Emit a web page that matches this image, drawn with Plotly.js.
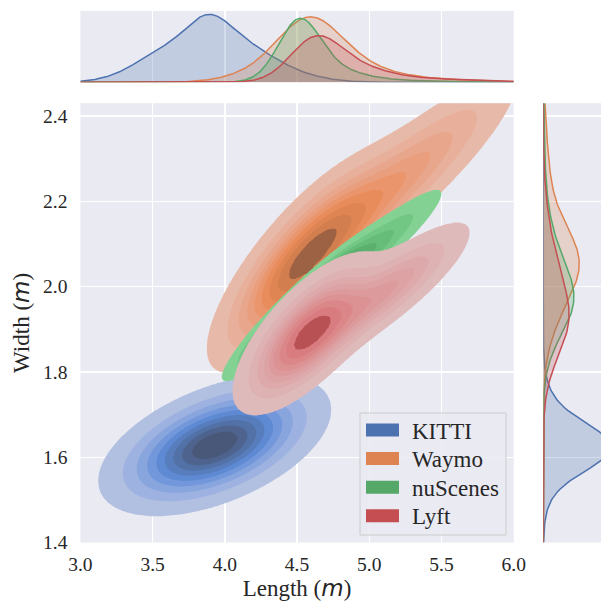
<!DOCTYPE html>
<html><head><meta charset="utf-8">
<script src="https://cdn.plot.ly/plotly-3.0.1.min.js"></script>
<style>html,body{margin:0;padding:0;background:#fff}</style>
</head><body><div id="chart" style="width:601px;height:602px"></div>
<script>
// ---------------- data ----------------
const datasets = ['KITTI', 'Waymo', 'nuScenes', 'Lyft'];
const baseColors = ['#4C72B0', '#DD8452', '#55A868', '#C44E52'];
// joint density components: [weight, meanLength, meanWidth, sdLength, sdWidth, corr]
const kittiJoint    = [[1.00, 3.93, 1.628, 0.33, 0.068, 0.50]];
const waymoJoint    = [[0.62, 4.55, 2.060, 0.28, 0.110, 0.78], [0.37, 5.15, 2.230, 0.42, 0.130, 0.90], [0.002, 4.58, 2.040, 0.012, 0.004, 0]];
const nuscenesJoint = [[0.65, 4.52, 1.955, 0.22, 0.072, 0.94], [0.35, 4.93, 2.060, 0.29, 0.085, 0.94]];
const lyftJoint     = [[0.70, 4.58, 1.890, 0.22, 0.080, 0.70], [0.30, 5.12, 1.990, 0.28, 0.078, 0.85], [0.003, 4.576, 1.894, 0.012, 0.004, 0]];
// marginal density bumps: [height, centre, spread]
const kittiLength    = [[20, 3.88, 0.14], [48, 3.95, 0.34], [9, 3.50, 0.18]];
const waymoLength    = [[53, 4.57, 0.22], [15, 4.80, 0.30], [3, 5.30, 0.40], [5, 4.15, 0.20]];
const nuscenesLength = [[53, 4.51, 0.14], [14, 4.68, 0.22], [2, 5.10, 0.35]];
const lyftLength     = [[36, 4.62, 0.17], [15, 4.85, 0.25], [3, 5.40, 0.40]];
const kittiWidth     = [[40, 1.622, 0.050], [28, 1.630, 0.075]];
const waymoWidth     = [[28, 2.055, 0.080], [8, 2.150, 0.160], [6, 1.930, 0.070]];
const nuscenesWidth  = [[24, 1.960, 0.080], [10, 2.060, 0.100], [1.2, 2.300, 0.120]];
const lyftWidth      = [[20, 1.915, 0.085], [10, 2.040, 0.110]];
const joints = [kittiJoint, waymoJoint, nuscenesJoint, lyftJoint];
const lengths = [kittiLength, waymoLength, nuscenesLength, lyftLength];
const widths = [kittiWidth, waymoWidth, nuscenesWidth, lyftWidth];
const xTicks = [3.0, 3.5, 4.0, 4.5, 5.0, 5.5, 6.0];
const yTicks = [1.4, 1.6, 1.8, 2.0, 2.2, 2.4];
const xRange = [3, 6];
const yRange = [1.4, 2.43];
const levelCount = 10;
const thresh = 0.05;

// ---------------- HUSL colour ramp (as seaborn builds it) ----------------
const M = [[3.240969941904521, -1.537383177570093, -0.498610760293],
           [-0.96924363628087, 1.87596750150772, 0.041555057407175],
           [0.055630079696993, -0.20397695888897, 1.056971514242878]];
const MI = [[0.41239079926595, 0.35758433938387, 0.18048078840183],
            [0.21263900587151, 0.71516867876775, 0.072192315360733],
            [0.019330818715591, 0.11919477979462, 0.95053215224966]];
const refU = 0.19783000664283, refV = 0.46831999493879, kappa = 903.2962962, eps = 0.0088564516;
function bounds(L) {
  const s1 = Math.pow(L + 16, 3) / 1560896; const s2 = s1 > eps ? s1 : L / kappa; const r = [];
  for (let c = 0; c < 3; c++) { const m1 = M[c][0], m2 = M[c][1], m3 = M[c][2];
    for (let t = 0; t < 2; t++) {
      const top1 = (284517 * m1 - 94839 * m3) * s2;
      const top2 = (838422 * m3 + 769860 * m2 + 731718 * m1) * L * s2 - 769860 * t * L;
      const bot = (632260 * m3 - 126452 * m2) * s2 + 126452 * t;
      r.push([top1 / bot, top2 / bot]);
    } }
  return r;
}
function maxC(L, H) { const h = H / 180 * Math.PI; let m = Infinity;
  for (const [sl, ic] of bounds(L)) { const len = ic / (Math.sin(h) - sl * Math.cos(h)); if (len >= 0) m = Math.min(m, len); }
  return m; }
const toLin = c => c > 0.04045 ? Math.pow((c + 0.055) / 1.055, 2.4) : c / 12.92;
const fromLin = c => c <= 0.0031308 ? 12.92 * c : 1.055 * Math.pow(c, 1 / 2.4) - 0.055;
function hex2rgb(h) { return [1, 3, 5].map(i => parseInt(h.substr(i, 2), 16) / 255); }
function rgb2husl(rgb) {
  const [R, G, B] = rgb.map(toLin);
  const X = MI[0][0]*R + MI[0][1]*G + MI[0][2]*B, Y = MI[1][0]*R + MI[1][1]*G + MI[1][2]*B, Z = MI[2][0]*R + MI[2][1]*G + MI[2][2]*B;
  const L = Y <= eps ? Y * kappa : 116 * Math.cbrt(Y) - 16;
  const d = X + 15 * Y + 3 * Z;
  const U = 13 * L * (4 * X / d - refU), V = 13 * L * (9 * Y / d - refV);
  const C = Math.hypot(U, V); let H = Math.atan2(V, U) * 180 / Math.PI; if (H < 0) H += 360;
  return [H, C / maxC(L, H) * 100, L];
}
function husl2rgb(H, S, L) {
  const C = maxC(L, H) * S / 100, h = H / 180 * Math.PI;
  const U = C * Math.cos(h), V = C * Math.sin(h);
  const vu = U / (13 * L) + refU, vv = V / (13 * L) + refV;
  const Y = L > 8 ? Math.pow((L + 16) / 116, 3) : L / kappa;
  const X = -(9 * Y * vu) / ((vu - 4) * vv - vu * vv);
  const Z = (9 * Y - 15 * vv * Y - vv * X) / (3 * vv);
  return [0, 1, 2].map(i => Math.min(1, Math.max(0, fromLin(M[i][0]*X + M[i][1]*Y + M[i][2]*Z))));
}
function cmapFromColor(hex) {
  const [h, s] = rgb2husl(hex2rgb(hex));
  return f => { const i = (1 - f) * 255; const L = 35 + 45 * i / 255; const sat = s * Math.cos(-1 + 2 * i / 293);
    const c = husl2rgb(h, sat, L).map(v => Math.round(v * 255)); return 'rgb(' + c.join(',') + ')'; };
}
function rgba(hex, a) { const c = hex2rgb(hex).map(v => Math.round(v * 255)); return 'rgba(' + c.join(',') + ',' + a + ')'; }

// ---------------- densities ----------------
function g2(c, x, y) { const [w, mx, my, sx, sy, r] = c; const dx = (x - mx) / sx, dy = (y - my) / sy;
  const q = (dx * dx - 2 * r * dx * dy + dy * dy) / (1 - r * r);
  return w * Math.exp(-0.5 * q) / (2 * Math.PI * sx * sy * Math.sqrt(1 - r * r)); }
const bump = (b, x) => { const d = (x - b[1]) / b[2]; return b[0] * Math.exp(-0.5 * d * d); };

const gx = [], gy = [];
for (let i = 0; i <= 400; i++) gx.push(2.5 + i * 0.01);
for (let j = 0; j <= 350; j++) gy.push(1.25 + j * 0.004);

const traces = [];
joints.forEach((mix, k) => {
  const z = gy.map(y => gx.map(x => mix.reduce((s, c) => s + g2(c, x, y), 0)));
  const flat = z.flat().sort((a, b) => b - a);
  const tot = flat.reduce((a, b) => a + b, 0);
  const cum = []; let acc = 0; for (const v of flat) { acc += v; cum.push(acc / tot); }
  const lev = [];
  for (let l = 0; l < levelCount; l++) {
    const q = thresh + (1 - thresh) * l / (levelCount - 1);
    let idx = cum.findIndex(v => v >= 1 - q); if (idx < 0) idx = flat.length - 1;
    lev.push(flat[idx]);
  }
  const zt = z.map(row => row.map(v => {
    if (v < lev[0]) return -1 + v / lev[0];
    for (let l = 0; l < levelCount - 1; l++) if (v < lev[l + 1]) return l + (v - lev[l]) / (lev[l + 1] - lev[l]);
    return levelCount - 1;
  }));
  const cmap = cmapFromColor(baseColors[k]);
  const cs = [[0, 'rgba(0,0,0,0)']];
  for (let l = 0; l < levelCount - 1; l++) {
    const f = ((lev[l] + lev[l + 1]) / 2 - lev[0]) / (lev[levelCount - 1] - lev[0]);
    cs.push([(l + 1) / levelCount, cmap(f)]);
  }
  cs.push([1, cs[cs.length - 1][1]]);
  traces.push({ type: 'contour', x: gx, y: gy, z: zt, xaxis: 'x', yaxis: 'y', autocontour: false,
    contours: { start: 0, end: levelCount - 1, size: 1, coloring: 'fill', showlines: false },
    line: { width: 0 }, colorscale: cs, showscale: false, hoverinfo: 'skip', showlegend: false });
});

// marginals
const mx = [], my = [];
for (let i = 0; i <= 600; i++) mx.push(3 + i * 0.005);
for (let j = 0; j <= 206; j++) my.push(1.4 + j * 0.005);
let topMax = 0, rightMax = 0;
datasets.forEach((name, k) => {
  const dL = mx.map(x => lengths[k].reduce((s, b) => s + bump(b, x), 0));
  const dW = my.map(y => widths[k].reduce((s, b) => s + bump(b, y), 0));
  topMax = Math.max(topMax, ...dL); rightMax = Math.max(rightMax, ...dW);
  traces.push({ type: 'scatter', mode: 'lines', x: mx, y: dL, xaxis: 'x2', yaxis: 'y2', fill: 'tozeroy',
    fillcolor: rgba(baseColors[k], 0.25), line: { color: baseColors[k], width: 1.5 }, hoverinfo: 'skip', showlegend: false });
  traces.push({ type: 'scatter', mode: 'lines', x: dW, y: my, xaxis: 'x3', yaxis: 'y3', fill: 'tozerox',
    fillcolor: rgba(baseColors[k], 0.25), line: { color: baseColors[k], width: 1.5 }, hoverinfo: 'skip', showlegend: false });
});

const fontFam = 'Liberation Serif';
const textCol = '#262626';
const tickFont = { family: fontFam, size: 19.5, color: textCol };
const W = 601, H = 602;
const px = v => v / W, py = v => 1 - v / H;
const mainX = [px(80.4), px(513.7)], mainY = [py(542.6), py(103.2)];

// legend drawn as boxes + text
const shapes = [{ type: 'rect', xref: 'paper', yref: 'paper', x0: px(360), x1: px(506), y0: py(535), y1: py(413),
  fillcolor: 'rgba(234,234,242,0.8)', line: { color: '#cccccc', width: 1 } }];
const annotations = [];
datasets.forEach((name, k) => {
  const cy = 430 + k * 28.6;
  shapes.push({ type: 'rect', xref: 'paper', yref: 'paper', x0: px(366), x1: px(399), y0: py(cy + 6.5), y1: py(cy - 6.5),
    fillcolor: baseColors[k], line: { width: 0 } });
  annotations.push({ xref: 'paper', yref: 'paper', x: px(410), y: py(cy + 1), xanchor: 'left', yanchor: 'middle',
    text: name, showarrow: false, font: { family: fontFam, size: 23, color: textCol } });
});

const mItal = '<i><span style="font-family:DejaVu Sans">m</span></i>';
const layout = {
  width: W, height: H, margin: { l: 0, r: 0, t: 0, b: 0 }, paper_bgcolor: '#ffffff', plot_bgcolor: '#EAEAF2',
  showlegend: false, shapes, annotations, font: { family: fontFam, color: textCol },
  xaxis: { domain: mainX, range: xRange, anchor: 'y', tickvals: xTicks, ticktext: xTicks.map(v => v.toFixed(1)),
    showgrid: true, gridcolor: '#ffffff', gridwidth: 1.5, zeroline: false, showline: false, ticks: '',
    tickfont: tickFont, ticklabelstandoff: 8, automargin: false,
    title: { text: 'Length (' + mItal + ')', font: { family: fontFam, size: 23, color: textCol }, standoff: 4 } },
  yaxis: { domain: mainY, range: yRange, anchor: 'x', tickvals: yTicks, ticktext: yTicks.map(v => v.toFixed(1)),
    showgrid: true, gridcolor: '#ffffff', gridwidth: 1.5, zeroline: false, showline: false, ticks: '',
    tickfont: tickFont, ticklabelstandoff: 12, automargin: false,
    title: { text: 'Width (' + mItal + ')', font: { family: fontFam, size: 23, color: textCol }, standoff: 6 } },
  xaxis2: { domain: mainX, range: xRange, anchor: 'y2', tickvals: xTicks, showticklabels: false, showgrid: true,
    gridcolor: '#ffffff', gridwidth: 1.5, zeroline: false, ticks: '' },
  yaxis2: { domain: [py(82.3), py(11)], range: [0, topMax * 1.05], anchor: 'x2', showgrid: false, showticklabels: false,
    zeroline: false, ticks: '' },
  xaxis3: { domain: [px(543.3), 1], range: [0, rightMax * 1.05 * 57.7 / 71.3], anchor: 'y3', showgrid: false,
    showticklabels: false, zeroline: false, ticks: '' },
  yaxis3: { domain: mainY, range: yRange, anchor: 'x3', tickvals: yTicks, showticklabels: false, showgrid: true,
    gridcolor: '#ffffff', gridwidth: 1.5, zeroline: false, ticks: '' }
};
Plotly.newPlot('chart', traces, layout, { staticPlot: true, displayModeBar: false });
</script></body></html>
